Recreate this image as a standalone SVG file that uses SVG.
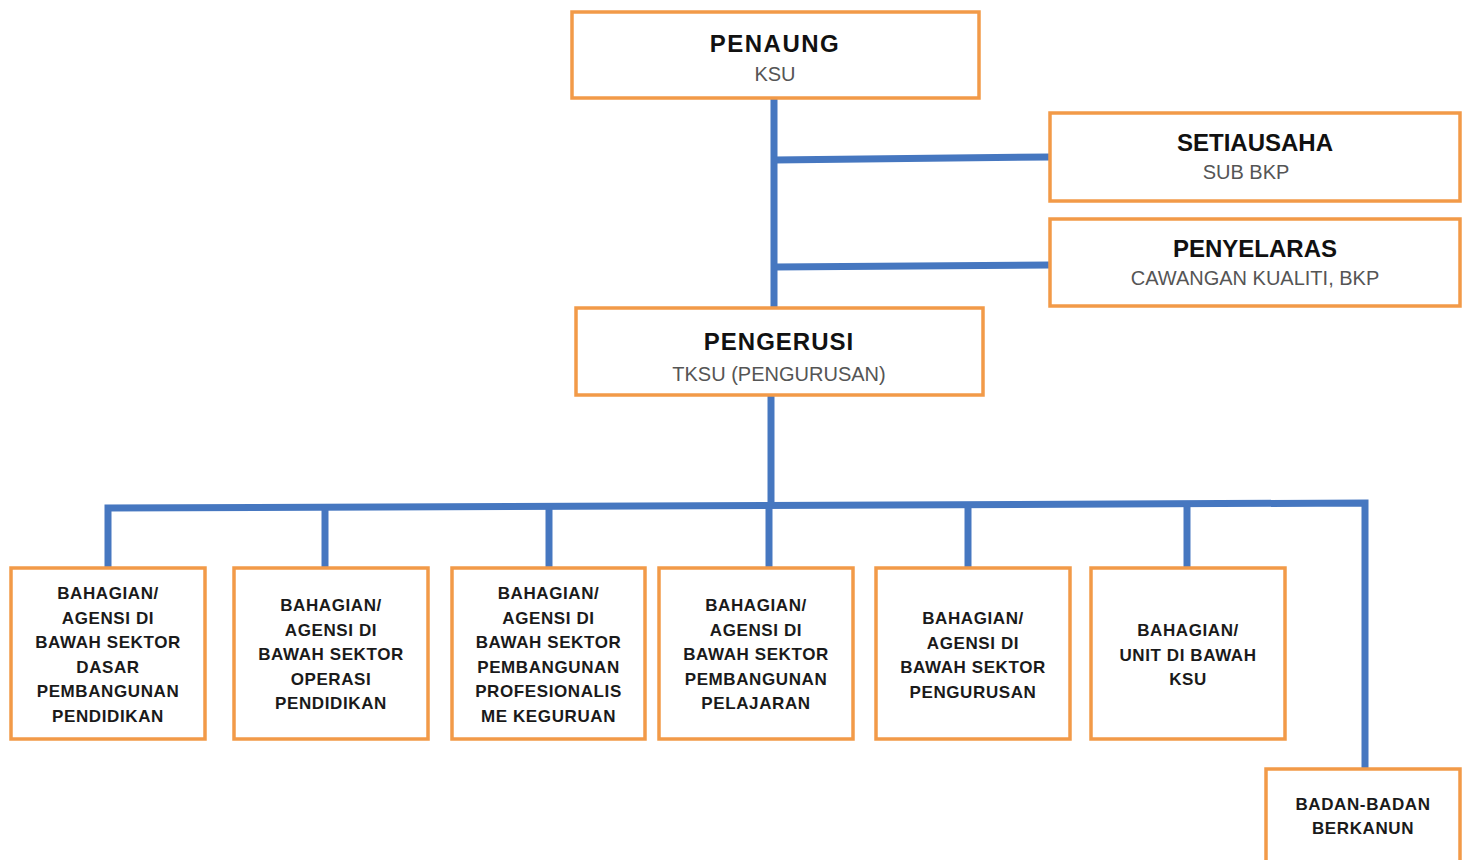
<svg xmlns="http://www.w3.org/2000/svg" width="1468" height="860" viewBox="0 0 1468 860">
<style>
.box{fill:#fff;stroke:#F29A48;stroke-width:3.5}
.con{fill:none;stroke:#4677C0;stroke-width:7;stroke-linejoin:miter}
.t{font-family:"Liberation Sans",Arial,sans-serif;font-weight:bold;font-size:24px;fill:#111;text-anchor:middle}
.s{font-family:"Liberation Sans",Arial,sans-serif;font-size:20px;fill:#555;text-anchor:middle}
.b{font-family:"Liberation Sans",Arial,sans-serif;font-weight:bold;font-size:17px;fill:#1a1a1a;text-anchor:middle;letter-spacing:0.6px}
</style>
<rect width="1468" height="860" fill="#fff"/>
<g id="connectors">
<path class="con" d="M774,98 V308"/>
<path class="con" d="M774,160 L1050,157"/>
<path class="con" d="M774,267 L1050,265"/>
<path class="con" d="M771,395 V506"/>
<path class="con" d="M108,568 V508 L1365,503 V769"/>
<path class="con" d="M325,507 V568"/>
<path class="con" d="M549,507 V568"/>
<path class="con" d="M769,506 V568"/>
<path class="con" d="M968,505 V568"/>
<path class="con" d="M1187,504 V568"/>
</g>
<g id="penaung">
<rect class="box" x="572" y="12" width="407" height="86"/>
<text class="t" x="775" y="52" letter-spacing="1.5">PENAUNG</text>
<text class="s" x="775" y="81">KSU</text>
</g>
<g id="setiausaha">
<rect class="box" x="1050" y="113" width="410" height="88"/>
<text class="t" x="1255" y="151">SETIAUSAHA</text>
<text class="s" x="1246" y="179">SUB BKP</text>
</g>
<g id="penyelaras">
<rect class="box" x="1050" y="219" width="410" height="87"/>
<text class="t" x="1255" y="257">PENYELARAS</text>
<text class="s" x="1255" y="285" font-size="21">CAWANGAN KUALITI, BKP</text>
</g>
<g id="pengerusi">
<rect class="box" x="576" y="308" width="407" height="87"/>
<text class="t" x="779" y="350" letter-spacing="1">PENGERUSI</text>
<text class="s" x="779" y="381">TKSU (PENGURUSAN)</text>
</g>
<g id="sektor-dasar">
<rect class="box" x="11" y="568" width="194" height="171"/>
<text class="b" x="108" y="599">BAHAGIAN/</text>
<text class="b" x="108" y="623.5">AGENSI DI</text>
<text class="b" x="108" y="648">BAWAH SEKTOR</text>
<text class="b" x="108" y="672.5">DASAR</text>
<text class="b" x="108" y="697">PEMBANGUNAN</text>
<text class="b" x="108" y="721.5">PENDIDIKAN</text>
</g>
<g id="sektor-operasi">
<rect class="box" x="234" y="568" width="194" height="171"/>
<text class="b" x="331" y="611">BAHAGIAN/</text>
<text class="b" x="331" y="635.5">AGENSI DI</text>
<text class="b" x="331" y="660">BAWAH SEKTOR</text>
<text class="b" x="331" y="684.5">OPERASI</text>
<text class="b" x="331" y="709">PENDIDIKAN</text>
</g>
<g id="sektor-profesionalisme">
<rect class="box" x="452" y="568" width="193" height="171"/>
<text class="b" x="548.5" y="599">BAHAGIAN/</text>
<text class="b" x="548.5" y="623.5">AGENSI DI</text>
<text class="b" x="548.5" y="648">BAWAH SEKTOR</text>
<text class="b" x="548.5" y="672.5">PEMBANGUNAN</text>
<text class="b" x="548.5" y="697">PROFESIONALIS</text>
<text class="b" x="548.5" y="721.5">ME KEGURUAN</text>
</g>
<g id="sektor-pelajaran">
<rect class="box" x="659" y="568" width="194" height="171"/>
<text class="b" x="756" y="611">BAHAGIAN/</text>
<text class="b" x="756" y="635.5">AGENSI DI</text>
<text class="b" x="756" y="660">BAWAH SEKTOR</text>
<text class="b" x="756" y="684.5">PEMBANGUNAN</text>
<text class="b" x="756" y="709">PELAJARAN</text>
</g>
<g id="sektor-pengurusan">
<rect class="box" x="876" y="568" width="194" height="171"/>
<text class="b" x="973" y="624">BAHAGIAN/</text>
<text class="b" x="973" y="648.5">AGENSI DI</text>
<text class="b" x="973" y="673">BAWAH SEKTOR</text>
<text class="b" x="973" y="697.5">PENGURUSAN</text>
</g>
<g id="unit-ksu">
<rect class="box" x="1091" y="568" width="194" height="171"/>
<text class="b" x="1188" y="636">BAHAGIAN/</text>
<text class="b" x="1188" y="660.5">UNIT DI BAWAH</text>
<text class="b" x="1188" y="685">KSU</text>
</g>
<g id="badan-berkanun">
<rect class="box" x="1266" y="769" width="194" height="110"/>
<text class="b" x="1363" y="810">BADAN-BADAN</text>
<text class="b" x="1363" y="834">BERKANUN</text>
</g>
</svg>
